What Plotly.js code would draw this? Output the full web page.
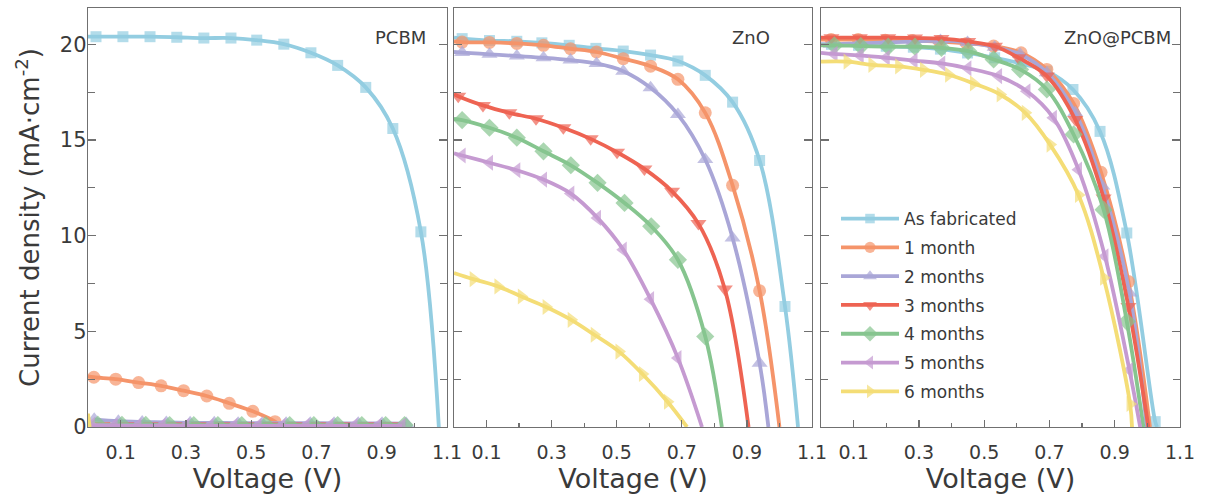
<!DOCTYPE html>
<html>
<head>
<meta charset="utf-8">
<script src="https://cdn.plot.ly/plotly-3.0.1.min.js"></script>
<style>html,body{margin:0;padding:0;background:#fff;}#chart{width:1206px;height:502px;}</style>
</head>
<body>
<div id="chart"></div>
<script>
// ---------- data ----------
const seriesNames = ["As fabricated", "1 month", "2 months", "3 months", "4 months", "5 months", "6 months"];
const panelLabels = ["PCBM", "ZnO", "ZnO@PCBM"];
const xTickVals = [0.1, 0.3, 0.5, 0.7, 0.9, 1.1];
const xTickText = ["0.1", "0.3", "0.5", "0.7", "0.9", "1.1"];
const xMinorVals = [0.2, 0.4, 0.6, 0.8, 1.0];
const yTickVals = [0, 5, 10, 15, 20];
const yMinorVals = [2.5, 7.5, 12.5, 17.5];

// PCBM panel: marker points (V, J), J at V=0 (jsc) and V at J=0 (voc)
const pcbm_v0 = [0.0245, 0.107, 0.19, 0.272, 0.355, 0.438, 0.517, 0.6, 0.683, 0.765, 0.851, 0.934, 1.02];
const pcbm_j0 = [20.4, 20.4, 20.4, 20.37, 20.33, 20.33, 20.22, 20.01, 19.56, 18.9, 17.75, 15.6, 10.2];
const pcbm_v1 = [0.018, 0.085, 0.155, 0.224, 0.293, 0.364, 0.433, 0.505, 0.573];
const pcbm_j1 = [2.6, 2.5, 2.32, 2.15, 1.9, 1.62, 1.24, 0.82, 0.28];
const pcbm_v2 = [0.019, 0.093, 0.166, 0.24, 0.313, 0.387, 0.46, 0.534, 0.607, 0.681, 0.754, 0.828, 0.901, 0.975];
const pcbm_j2 = [0.4, 0.3, 0.26, 0.24, 0.22, 0.22, 0.2, 0.2, 0.2, 0.2, 0.19, 0.19, 0.19, 0.18];
const pcbm_v3 = [0.045, 0.118, 0.192, 0.265, 0.339, 0.412, 0.486, 0.559, 0.633, 0.706, 0.78, 0.853, 0.927];
const pcbm_j3 = [0.08, 0.07, 0.07, 0.06, 0.06, 0.06, 0.06, 0.06, 0.06, 0.06, 0.06, 0.06, 0.06];
const pcbm_v4 = [0.03, 0.104, 0.177, 0.25, 0.324, 0.398, 0.471, 0.545, 0.618, 0.692, 0.765, 0.839, 0.912, 0.97];
const pcbm_j4 = [0.12, 0.11, 0.11, 0.1, 0.1, 0.1, 0.1, 0.1, 0.1, 0.1, 0.1, 0.1, 0.1, 0.1];
const pcbm_v5 = [0.01, 0.08, 0.153, 0.227, 0.3, 0.374, 0.447, 0.521, 0.594, 0.668, 0.741, 0.815, 0.888, 0.962];
const pcbm_j5 = [0.1, 0.08, 0.07, 0.07, 0.06, 0.06, 0.06, 0.06, 0.06, 0.06, 0.06, 0.06, 0.06, 0.06];
const pcbm_v6 = [];
const pcbm_j6 = [];
const pcbm_jsc = [20.4, 2.65, null, null, null, null, 0.7];
const pcbm_voc = [1.075, 0.59, null, null, null, null, 0.005];

// ZnO panel
const zno_v0 = [0.025, 0.109, 0.193, 0.27, 0.354, 0.436, 0.52, 0.604, 0.688, 0.772, 0.856, 0.939, 1.017];
const zno_j0 = [20.3, 20.2, 20.16, 20.08, 19.95, 19.79, 19.65, 19.44, 19.13, 18.38, 16.98, 13.93, 6.3];
const zno_v1 = [0.025, 0.109, 0.193, 0.275, 0.358, 0.438, 0.52, 0.604, 0.688, 0.772, 0.856, 0.939];
const zno_j1 = [20.12, 20.1, 20.05, 19.95, 19.77, 19.6, 19.25, 18.86, 18.17, 16.42, 12.63, 7.12];
const zno_v2 = [0.025, 0.109, 0.193, 0.275, 0.358, 0.438, 0.52, 0.604, 0.688, 0.772, 0.856, 0.939];
const zno_j2 = [19.57, 19.48, 19.39, 19.3, 19.18, 19.0, 18.6, 17.73, 16.33, 13.98, 9.88, 3.33];
const zno_v3 = [0.013, 0.089, 0.17, 0.252, 0.336, 0.42, 0.501, 0.585, 0.67, 0.751, 0.832];
const zno_j3 = [17.29, 16.81, 16.42, 16.11, 15.64, 15.06, 14.36, 13.49, 12.32, 10.63, 7.21];
const zno_v4 = [0.025, 0.109, 0.193, 0.275, 0.359, 0.441, 0.524, 0.606, 0.688, 0.772];
const zno_j4 = [16.04, 15.64, 15.12, 14.41, 13.68, 12.76, 11.71, 10.49, 8.74, 4.73];
const zno_v5 = [0.025, 0.109, 0.193, 0.275, 0.359, 0.441, 0.52, 0.604, 0.688];
const zno_j5 = [14.19, 13.81, 13.42, 12.93, 12.2, 10.93, 9.27, 6.68, 3.6];
const zno_v6 = [0.059, 0.135, 0.207, 0.283, 0.36, 0.431, 0.507, 0.579, 0.656];
const zno_j6 = [7.73, 7.35, 6.82, 6.27, 5.6, 4.82, 3.94, 2.77, 1.32];
const zno_jsc = [20.35, 20.15, 19.6, 17.4, 16.1, 14.3, 8.05];
const zno_voc = [1.057, 1.0, 0.966, 0.905, 0.823, 0.762, 0.716];

// ZnO@PCBM panel
const zp_v0 = [0.032, 0.115, 0.2, 0.283, 0.366, 0.449, 0.532, 0.612, 0.692, 0.772, 0.855, 0.937, 1.024];
const zp_j0 = [20.0, 19.95, 19.9, 19.85, 19.75, 19.55, 19.3, 19.0, 18.6, 17.64, 15.45, 10.14, 0.28];
const zp_v1 = [0.031, 0.114, 0.197, 0.28, 0.363, 0.446, 0.529, 0.613, 0.692, 0.774, 0.858, 0.942];
const zp_j1 = [20.25, 20.25, 20.22, 20.2, 20.15, 20.05, 19.91, 19.56, 18.69, 16.91, 13.31, 7.6];
const zp_v2 = [0.03, 0.115, 0.2, 0.283, 0.366, 0.449, 0.532, 0.61, 0.692, 0.779, 0.862, 0.945];
const zp_j2 = [20.0, 20.05, 20.1, 20.15, 20.2, 20.1, 19.85, 19.48, 18.52, 16.42, 12.6, 7.0];
const zp_v3 = [0.032, 0.119, 0.206, 0.288, 0.369, 0.451, 0.533, 0.605, 0.692, 0.779, 0.866, 0.942];
const zp_j3 = [20.35, 20.35, 20.35, 20.33, 20.3, 20.15, 19.9, 19.3, 18.34, 16.07, 11.97, 6.3];
const zp_v4 = [0.041, 0.122, 0.206, 0.288, 0.369, 0.451, 0.529, 0.61, 0.692, 0.774, 0.866, 0.937];
const zp_j4 = [19.95, 19.91, 19.88, 19.88, 19.82, 19.65, 19.21, 18.69, 17.64, 15.29, 11.36, 5.51];
const zp_v5 = [0.04, 0.12, 0.2, 0.285, 0.37, 0.45, 0.544, 0.631, 0.712, 0.789, 0.87, 0.945];
const zp_j5 = [19.5, 19.42, 19.3, 19.15, 19.0, 18.75, 18.34, 17.55, 16.16, 13.45, 8.92, 2.98];
const zp_v6 = [0.08, 0.156, 0.238, 0.314, 0.391, 0.467, 0.549, 0.626, 0.702, 0.789, 0.866, 0.947];
const zp_j6 = [19.1, 18.93, 18.85, 18.67, 18.41, 17.96, 17.38, 16.42, 14.76, 12.13, 7.8, 1.2];
const zp_jsc = [20.0, 20.25, 20.0, 20.35, 19.95, 19.56, 19.1];
const zp_voc = [1.03, 1.008, 0.998, 1.003, 0.988, 0.978, 0.953];

// ---------- styles ----------
const colors = ["#93CDE1", "#F5946A", "#A9A6D7", "#EE6352", "#86C58F", "#C59AD1", "#F4DD76"];
const symbols = ["square", "circle", "triangle-up", "triangle-down", "diamond", "triangle-left", "triangle-right"];
const msizes = [11, 13, 14, 14, 14, 14, 14];

const panels = [
  {v: [pcbm_v0, pcbm_v1, pcbm_v2, pcbm_v3, pcbm_v4, pcbm_v5, pcbm_v6], j: [pcbm_j0, pcbm_j1, pcbm_j2, pcbm_j3, pcbm_j4, pcbm_j5, pcbm_j6], jsc: pcbm_jsc, voc: pcbm_voc},
  {v: [zno_v0, zno_v1, zno_v2, zno_v3, zno_v4, zno_v5, zno_v6], j: [zno_j0, zno_j1, zno_j2, zno_j3, zno_j4, zno_j5, zno_j6], jsc: zno_jsc, voc: zno_voc},
  {v: [zp_v0, zp_v1, zp_v2, zp_v3, zp_v4, zp_v5, zp_v6], j: [zp_j0, zp_j1, zp_j2, zp_j3, zp_j4, zp_j5, zp_j6], jsc: zp_jsc, voc: zp_voc}
];

const traces = [];
panels.forEach((p, pi) => {
  const ax = pi === 0 ? "" : String(pi + 1);
  seriesNames.forEach((name, si) => {
    const xs = [], ys = [], sz = [];
    if (p.jsc[si] !== null) { xs.push(0); ys.push(p.jsc[si]); sz.push(0); }
    p.v[si].forEach((v, k) => { xs.push(v); ys.push(p.j[si][k]); sz.push(msizes[si]); });
    if (p.voc[si] !== null) { xs.push(p.voc[si]); ys.push(0); sz.push(0); }
    traces.push({
      type: "scatter", mode: "lines+markers", name: name,
      x: xs, y: ys, xaxis: "x" + ax, yaxis: "y" + ax,
      line: {color: colors[si], width: 3.8, shape: "spline", smoothing: 1},
      marker: {color: colors[si], symbol: symbols[si], size: sz, line: {width: 0}},
      showlegend: pi === 2, legendgroup: "g" + si,
      hoverinfo: "skip"
    });
  });
});

const textColor = "#3a3a3a";
const lineColor = "#707070";
const fontFam = "DejaVu Sans, sans-serif";
const plotL = 88, plotR = 1180, plotT = 8, plotB = 427;
const PW = plotR - plotL;
const panelPx = [[88, 447], [454, 812], [821, 1180]];
const doms = panelPx.map(d => [(d[0] - plotL) / PW, (d[1] - plotL) / PW]);

const layout = {
  width: 1206, height: 502,
  margin: {l: plotL, r: 1206 - plotR, t: plotT, b: 502 - plotB},
  paper_bgcolor: "#fff", plot_bgcolor: "#fff",
  font: {family: fontFam, color: textColor, size: 19},
  showlegend: true,
  legend: {
    x: (836 - plotL) / PW, y: (plotB - 201) / (plotB - plotT), xanchor: "left", yanchor: "top",
    bgcolor: "rgba(0,0,0,0)", font: {family: fontFam, size: 17, color: textColor},
    itemwidth: 58, tracegroupgap: 3.7, traceorder: "grouped"
  },
  annotations: []
};

panels.forEach((p, pi) => {
  const ax = pi === 0 ? "" : String(pi + 1);
  layout["xaxis" + ax] = {
    domain: doms[pi], range: [0, 1.1], anchor: "y" + ax,
    tickmode: "array", tickvals: xTickVals, ticktext: xTickText,
    ticks: "inside", ticklen: 7, tickwidth: 1.2, tickcolor: lineColor,
    minor: {tickmode: "array", tickvals: xMinorVals, ticks: "inside", ticklen: 4, tickwidth: 1.2, tickcolor: lineColor},
    showline: true, linecolor: lineColor, linewidth: 1.3, mirror: true,
    showgrid: false, zeroline: false,
    tickfont: {size: 19, color: textColor, family: fontFam},
    ticklabelstandoff: 8,
    title: {text: "Voltage (V)", font: {size: 27, color: textColor, family: fontFam}, standoff: 6}
  };
  const yax = {
    domain: [0, 1], range: [0, 21.9], anchor: "x" + ax,
    tickmode: "array", tickvals: yTickVals,
    ticks: "inside", ticklen: 8, tickwidth: 1.2, tickcolor: lineColor,
    minor: {tickmode: "array", tickvals: yMinorVals, ticks: "inside", ticklen: 7, tickwidth: 1.2, tickcolor: lineColor},
    showline: true, linecolor: lineColor, linewidth: 1.3, mirror: "ticks",
    showgrid: false, zeroline: false,
    showticklabels: pi === 0,
    tickfont: {size: 21, color: textColor, family: fontFam},
    ticklabelstandoff: -4
  };
  if (pi === 0) {
    yax.title = {text: "Current density (mA·cm<sup>-2</sup>)", font: {size: 26, color: textColor, family: fontFam}, standoff: 12};
  }
  layout["yaxis" + ax] = yax;
  const rightPx = [428, 772, 1173][pi];
  const d = panelPx[pi];
  layout.annotations.push({
    text: panelLabels[pi], xref: "x" + ax + " domain", yref: "y" + ax + " domain",
    x: (rightPx - d[0]) / (d[1] - d[0]), y: (plotB - 37) / (plotB - plotT),
    xanchor: "right", yanchor: "middle", showarrow: false,
    font: {size: 18, color: textColor, family: fontFam}
  });
});

Plotly.newPlot("chart", traces, layout, {displayModeBar: false, staticPlot: true});
</script>
</body>
</html>
